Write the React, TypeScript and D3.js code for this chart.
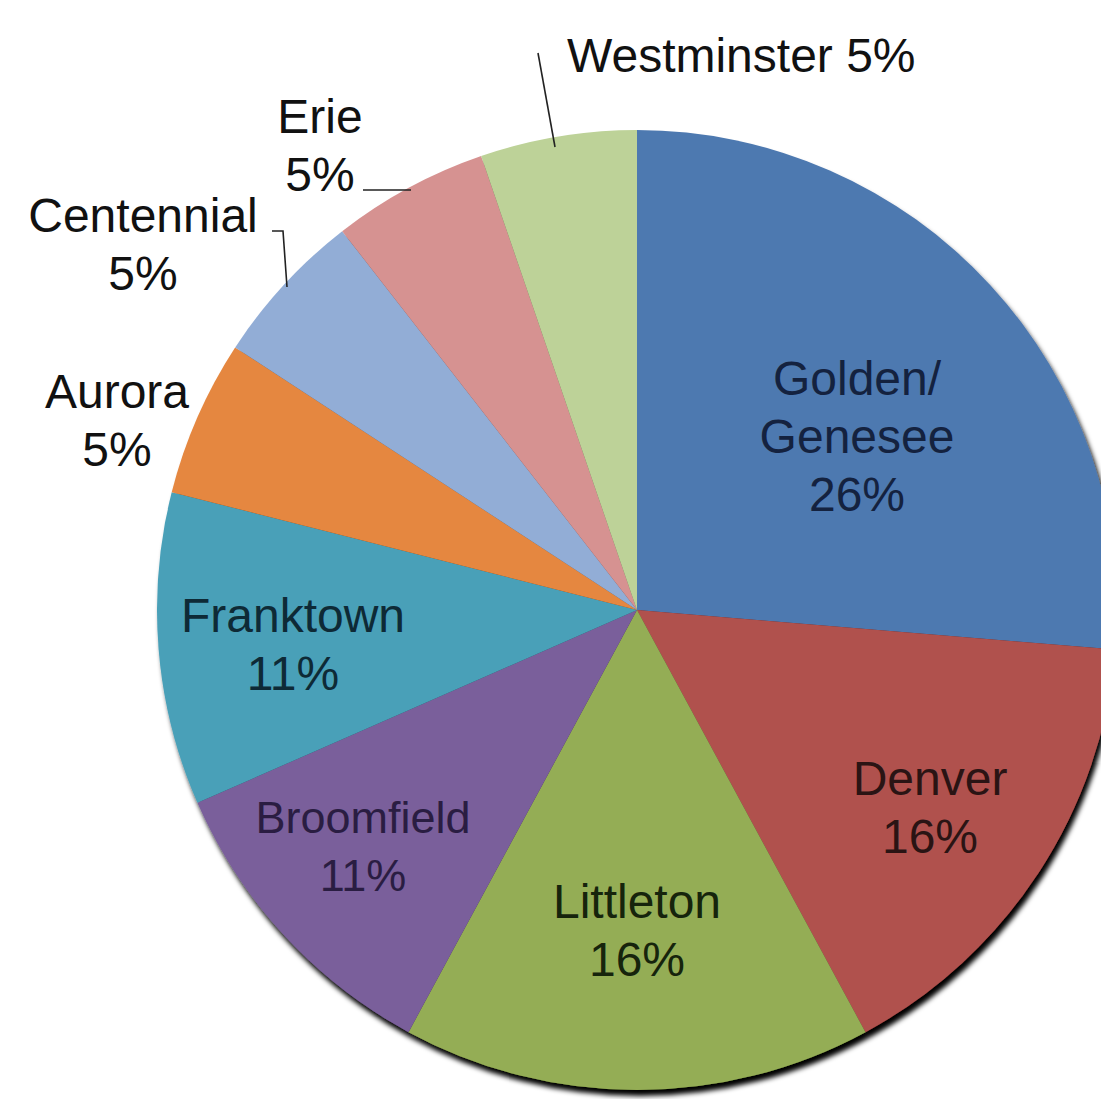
import React from "react";
import * as d3 from "d3";

const categories = ["Golden/Genesee", "Denver", "Littleton", "Broomfield", "Franktown", "Aurora", "Centennial", "Erie", "Westminster"];
const counts = [5, 3, 3, 2, 2, 1, 1, 1, 1];
const percentLabels = ["26%", "16%", "16%", "11%", "11%", "5%", "5%", "5%", "5%"];
const labelLines = [
  ["Golden/", "Genesee", "26%"],
  ["Denver", "16%"],
  ["Littleton", "16%"],
  ["Broomfield", "11%"],
  ["Franktown", "11%"],
  ["Aurora", "5%"],
  ["Centennial", "5%"],
  ["Erie", "5%"],
  ["Westminster 5%"],
];
const colors = ["#4E79B0", "#B0514D", "#94AD55", "#7A5F9B", "#4AA0B8", "#E5873F", "#92ADD6", "#D69291", "#BDD298"];
const textColors = ["#14223F", "#2A1414", "#16240C", "#2A1D42", "#0E2A36", "#111", "#111", "#111", "#111"];

// layout (label anchors, pixel space)
const labelLayout = [
  { x: 857, y: 395, anchor: "middle", size: 48 },
  { x: 930, y: 795, anchor: "middle", size: 48 },
  { x: 637, y: 918, anchor: "middle", size: 48 },
  { x: 363, y: 833, anchor: "middle", size: 45 },
  { x: 293, y: 632, anchor: "middle", size: 48 },
  { x: 117, y: 408, anchor: "middle", size: 48 },
  { x: 143, y: 232, anchor: "middle", size: 48 },
  { x: 320, y: 133, anchor: "middle", size: 48 },
  { x: 567, y: 72, anchor: "start", size: 48 },
];
const leaders = [
  { idx: 8, pts: [[538, 53], [555, 147]] },
  { idx: 7, pts: [[363, 190], [411, 190]] },
  { idx: 6, pts: [[272, 231], [283, 231], [287, 287]] },
];

export default function App() {
  const W = 1101, H = 1099;
  const cx = 637, cy = 610, r = 480;
  const pie = d3.pie<number>().sort(null).value((d) => d).startAngle(0).endAngle(2 * Math.PI);
  const arcs = pie(counts);
  const arcGen = d3.arc<d3.PieArcDatum<number>>().innerRadius(0).outerRadius(r);
  const lineGen = d3.line();
  return (
    <svg width={W} height={H} style={{ position: "absolute", left: 0, top: 0, background: "#fff" }}
      fontFamily="'Liberation Sans', Arial, sans-serif">
      <defs>
        <filter id="sh" x="-10%" y="-10%" width="120%" height="120%">
          <feGaussianBlur in="SourceAlpha" stdDeviation="2.5" />
          <feOffset dx="3" dy="6" result="b" />
          <feComponentTransfer><feFuncA type="linear" slope="1" /></feComponentTransfer>
          <feMerge><feMergeNode /><feMergeNode in="SourceGraphic" /></feMerge>
        </filter>
      </defs>
      <g transform={`translate(${cx},${cy})`} filter="url(#sh)">
        {arcs.map((a, i) => (
          <path key={categories[i]} d={arcGen(a) || ""} fill={colors[i]} />
        ))}
      </g>
      {leaders.map((l) => (
        <path key={l.idx} d={lineGen(l.pts as [number, number][]) || ""} fill="none" stroke="#222" strokeWidth={1.6} />
      ))}
      {labelLines.map((lines, i) => {
        const L = labelLayout[i];
        return (
          <text key={i} x={L.x} y={L.y} textAnchor={L.anchor} fontSize={L.size} fill={textColors[i]}
            data-pct={percentLabels[i]}>
            {lines.map((t, j) => (
              <tspan key={j} x={L.x} dy={j === 0 ? 0 : 58}>{t}</tspan>
            ))}
          </text>
        );
      })}
    </svg>
  );
}
